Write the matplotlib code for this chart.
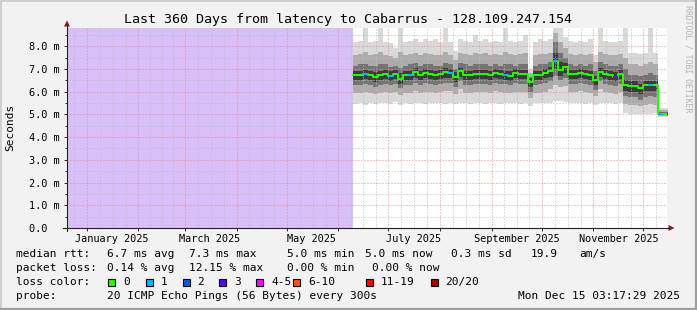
import numpy as np
import pandas as pd
import matplotlib
matplotlib.use('Agg')
import matplotlib.pyplot as plt
from matplotlib.patches import Rectangle, Polygon
from matplotlib.ticker import FuncFormatter
from datetime import datetime

plt.rcParams['font.family'] = ['DejaVu Sans Mono']

# 3 day steps, target only has data from 2025-06-10 on
days = pd.date_range('2025-06-10', periods=63, freq='3D')

# median rtt in ms
median = [6.72, 6.72, 6.77, 6.72, 6.64, 6.72, 6.77, 6.70, 6.77, 6.57,
          6.72, 6.72, 6.86, 6.72, 6.80, 6.77, 6.72, 6.77, 6.86, 6.83,
          6.64, 6.90, 6.72, 6.72, 6.77, 6.77, 6.77, 6.72, 6.83, 6.77,
          6.74, 6.70, 6.80, 6.77, 6.77, 6.43, 6.72, 6.74, 6.80, 6.90,
          7.33, 6.95, 7.08, 6.77, 6.77, 6.83, 6.77, 6.72, 6.50, 6.88,
          6.77, 6.72, 6.66, 6.77, 6.30, 6.27, 6.27, 6.15, 6.29, 6.29,
          6.29, 5.03, 5.03]
# lost pings out of 20
loss = [0, 0, 1, 0, 0, 0, 0, 1, 0, 0,
        0, 1, 0, 0, 0, 0, 0, 0, 0, 1,
        0, 0, 0, 0, 0, 0, 0, 0, 0, 0,
        1, 0, 0, 0, 0, 0, 0, 0, 0, 0,
        1, 0, 0, 0, 0, 0, 0, 0, 0, 0,
        0, 0, 3, 0, 0, 0, 0, 0, 0, 1,
        0, 1, 0]

# smoke: spread of the 20 pings
p_max = [8.20, 8.25, 8.80, 8.20, 8.25, 8.80, 8.20, 8.15, 7.90, 8.80,
         8.20, 8.25, 8.30, 8.20, 8.30, 8.25, 8.30, 8.20, 8.80, 8.20,
         7.80, 8.30, 8.25, 8.20, 8.50, 8.25, 8.30, 8.20, 8.25, 8.20,
         8.80, 8.25, 8.20, 8.25, 8.50, 7.00, 8.20, 8.30, 8.25, 8.30,
         8.80, 8.80, 8.40, 8.25, 8.20, 8.25, 8.20, 8.30, 7.60, 8.80,
         8.25, 8.20, 8.20, 8.25, 8.80, 7.70, 7.70, 7.65, 7.70, 8.80,
         7.70, 5.30, 5.30]
p_hi2 = [7.60, 7.65, 7.75, 7.60, 7.65, 7.75, 7.60, 7.55, 7.50, 7.75,
         7.60, 7.65, 7.70, 7.60, 7.70, 7.65, 7.60, 7.60, 7.75, 7.60,
         7.40, 7.70, 7.65, 7.60, 7.70, 7.65, 7.70, 7.60, 7.65, 7.60,
         7.75, 7.65, 7.60, 7.65, 7.70, 6.80, 7.60, 7.65, 7.65, 7.70,
         8.60, 8.20, 7.90, 7.65, 7.60, 7.65, 7.60, 7.65, 7.30, 7.75,
         7.65, 7.60, 7.60, 7.65, 7.50, 7.20, 7.20, 7.15, 7.20, 7.30,
         7.20, 5.20, 5.20]
p_hi3 = [7.15, 7.20, 7.20, 7.15, 7.15, 7.20, 7.20, 7.10, 7.15, 7.05,
         7.15, 7.20, 7.25, 7.15, 7.20, 7.20, 7.15, 7.15, 7.25, 7.20,
         7.00, 7.25, 7.20, 7.15, 7.20, 7.20, 7.20, 7.15, 7.20, 7.15,
         7.20, 7.20, 7.15, 7.20, 7.20, 6.65, 7.15, 7.20, 7.20, 7.30,
         8.20, 7.70, 7.50, 7.20, 7.15, 7.20, 7.15, 7.20, 6.90, 7.30,
         7.20, 7.15, 7.15, 7.20, 7.00, 6.75, 6.75, 6.70, 6.75, 6.80,
         6.75, 5.12, 5.12]
p_hi4 = [6.92, 6.92, 6.95, 6.92, 6.85, 6.92, 6.95, 6.90, 6.95, 6.80,
         6.92, 6.92, 7.02, 6.92, 6.98, 6.95, 6.92, 6.95, 7.02, 7.00,
         6.85, 7.05, 6.92, 6.92, 6.95, 6.95, 6.95, 6.92, 7.00, 6.95,
         6.92, 6.90, 6.98, 6.95, 6.95, 6.60, 6.92, 6.92, 6.98, 7.08,
         7.70, 7.30, 7.25, 6.95, 6.95, 7.00, 6.95, 6.92, 6.70, 7.05,
         6.95, 6.92, 6.88, 6.95, 6.50, 6.45, 6.45, 6.35, 6.45, 6.48,
         6.45, 5.07, 5.07]
p_lo4 = [6.50, 6.50, 6.55, 6.50, 6.42, 6.50, 6.55, 6.48, 6.55, 6.35,
         6.50, 6.50, 6.62, 6.50, 6.58, 6.55, 6.50, 6.55, 6.62, 6.60,
         6.42, 6.65, 6.50, 6.50, 6.55, 6.55, 6.55, 6.50, 6.60, 6.55,
         6.52, 6.48, 6.58, 6.55, 6.55, 6.20, 6.50, 6.52, 6.58, 6.65,
         7.00, 6.70, 6.80, 6.55, 6.55, 6.60, 6.55, 6.50, 6.28, 6.65,
         6.55, 6.50, 6.45, 6.55, 6.05, 6.00, 6.00, 5.90, 6.02, 6.05,
         6.02, 4.99, 4.99]
p_lo3 = [6.30, 6.30, 6.35, 6.30, 6.22, 6.30, 6.35, 6.28, 6.35, 6.15,
         6.30, 6.30, 6.40, 6.30, 6.38, 6.35, 6.30, 6.35, 6.40, 6.40,
         6.22, 6.45, 6.30, 6.30, 6.35, 6.35, 6.35, 6.30, 6.40, 6.35,
         6.32, 6.28, 6.38, 6.35, 6.35, 6.00, 6.30, 6.32, 6.38, 6.45,
         6.70, 6.50, 6.60, 6.35, 6.35, 6.40, 6.35, 6.30, 6.08, 6.45,
         6.35, 6.30, 6.25, 6.35, 5.80, 5.75, 5.75, 5.65, 5.75, 5.80,
         5.75, 4.96, 4.96]
p_lo2 = [5.95, 5.95, 6.00, 5.95, 5.88, 5.95, 6.00, 5.95, 6.00, 5.85,
         5.95, 5.95, 6.05, 5.95, 6.00, 6.00, 5.95, 6.00, 6.05, 6.05,
         5.90, 6.10, 5.95, 5.95, 6.00, 6.00, 6.00, 5.95, 6.05, 6.00,
         5.95, 5.95, 6.00, 6.00, 6.00, 5.70, 5.95, 5.95, 6.00, 6.10,
         6.30, 6.20, 6.25, 6.00, 6.00, 6.05, 6.00, 5.95, 5.80, 6.10,
         6.00, 5.95, 5.90, 6.00, 5.45, 5.40, 5.40, 5.35, 5.40, 5.45,
         5.40, 4.93, 4.93]
p_min = [5.45, 5.50, 5.40, 5.50, 5.45, 5.50, 5.50, 5.45, 5.55, 5.40,
         5.50, 5.45, 5.50, 5.50, 5.45, 5.50, 5.50, 5.50, 5.45, 5.50,
         5.45, 5.50, 5.50, 5.45, 5.50, 5.50, 5.45, 5.50, 5.50, 5.45,
         5.50, 5.50, 5.50, 5.45, 5.50, 5.35, 5.50, 5.50, 5.50, 5.50,
         5.60, 5.60, 5.55, 5.50, 5.50, 5.50, 5.45, 5.50, 5.40, 5.50,
         5.50, 5.50, 5.45, 5.50, 5.05, 5.00, 5.00, 5.00, 5.00, 5.00,
         5.05, 4.90, 4.90]

loss_labels = ['0', '1', '2', '3', '4-5', '6-10', '11-19', '20/20']
loss_colors = ['#26ff00', '#00b8ff', '#0059ff', '#5e00ff', '#ff00ff', '#ff5500', '#ff0000', '#a00000']
month_labels = ['January 2025', 'March 2025', 'May 2025', 'July 2025', 'September 2025', 'November 2025']
label_dates = pd.to_datetime(['2025-01-16', '2025-03-16', '2025-05-16', '2025-07-16', '2025-09-16', '2025-11-16'])

t_start = datetime(2024, 12, 20, 3, 17, 29)
t_end = datetime(2025, 12, 15, 3, 17, 29)


def loss_color(n):
    for lim, c in zip([0, 1, 2, 3, 5, 10, 19, 20], loss_colors):
        if n <= lim:
            return c
    return loss_colors[-1]


W, H = 697, 310
fig = plt.figure(figsize=(W / 100, H / 100), dpi=100)
fig.patch.set_facecolor('#f2f2f2')
ax = fig.add_axes([67 / W, (H - 228) / H, 600 / W, 200 / H])
ax.set_facecolor('white')

edges = list(days) + [days[-1] + pd.Timedelta(days=3)]
ax.axvspan(t_start, days[0], color='#d8bffa', lw=0, zorder=0)
layers = [(p_min, p_max, '#d9d9d9'), (p_lo2, p_hi2, '#acacac'),
          (p_lo3, p_hi3, '#747474'), (p_lo4, p_hi4, '#3c3c3c')]
for lo, hi, c in layers:
    ax.fill_between(edges, lo + [lo[-1]], hi + [hi[-1]], step='post', color=c, lw=0, zorder=1)

# grid on top of the smoke like rrdtool
dots = (0, (1, 2))
months = pd.date_range('2024-12-01', '2026-01-01', freq='MS')
for a, b in zip(months[:-1], months[1:]):
    for q in (1, 2, 3):
        ax.axvline(a + (b - a) * q / 4, color='#bdbdbd', lw=0.72, ls=dots, zorder=2)
for m in months:
    ax.axvline(m, color='#f08888', lw=0.72, ls=dots, zorder=2.5)
for v in np.arange(0.5, 9, 1):
    ax.axhline(v, color='#bdbdbd', lw=0.72, ls=dots, zorder=2)
for v in range(1, 9):
    ax.axhline(v, color='#f08888', lw=0.72, ls=dots, zorder=2.5)

ax.step(edges, median + [median[-1]], where='post', color=loss_colors[0], lw=1.4, zorder=4)
for i, n in enumerate(loss):
    if n > 0:
        ax.hlines(median[i], edges[i], edges[i + 1], color=loss_color(n), lw=1.4, zorder=5)

ax.set_xlim(t_start, t_end)
ax.set_ylim(0, 8.8)
for s in ax.spines.values():
    s.set_visible(False)
ax.set_yticks(range(0, 9))
ax.set_yticks(np.arange(0.5, 9, 1), minor=True)
ax.yaxis.set_major_formatter(FuncFormatter(lambda v, p: '0.0  ' if v == 0 else '%.1f m' % v))
ax.set_xticks(label_dates)
ax.set_xticklabels(month_labels)
ax.set_xticks(months[1:-1], minor=True)
ax.tick_params(axis='y', which='major', length=2.5, width=0.7, pad=3, labelsize=7.4, color='#333333')
ax.tick_params(axis='y', which='minor', length=1.5, width=0.7, color='#333333')
ax.tick_params(axis='x', which='major', length=0, pad=4, labelsize=7.4)
ax.tick_params(axis='x', which='minor', length=2.5, width=0.7, color='#333333')

# overlay in pixel coords for frame, axes arrows and legend
ov = fig.add_axes([0, 0, 1, 1], zorder=5)
ov.set_xlim(0, W)
ov.set_ylim(H, 0)
ov.axis('off')
ov.patch.set_alpha(0)

ov.plot([0, W], [0.5, 0.5], color='#cfcfcf', lw=1.4)
ov.plot([0.5, 0.5], [0, H], color='#cfcfcf', lw=1.4)
ov.plot([0, W], [H - 1, H - 1], color='#9e9e9e', lw=1.6)
ov.plot([W - 1, W - 1], [0, H], color='#9e9e9e', lw=1.6)

ov.plot([67, 67], [231, 25], color='#222222', lw=0.8)
ov.plot([63, 669], [228, 228], color='#222222', lw=0.8)
ov.add_patch(Polygon([[64, 26.5], [70, 26.5], [67, 20.5]], closed=True, color='#8b1a1a', lw=0))
ov.add_patch(Polygon([[668.5, 225], [668.5, 231], [674.5, 228]], closed=True, color='#8b1a1a', lw=0))

ov.text(348, 19, 'Last 360 Days from latency to Cabarrus - 128.109.247.154',
        ha='center', va='center', fontsize=9.6)
ov.text(10, 127, 'Seconds', rotation=90, ha='center', va='center', fontsize=8)
ov.text(688, 59, 'RRDTOOL / TOBI OETIKER', rotation=-90, ha='center', va='center',
        fontsize=5.9, color='#b4b4b4')

fs = 8
rows = [
    (254, [(16, 'median rtt:'), (107, '6.7 ms avg'), (189, '7.3 ms max'), (287, '5.0 ms min'),
           (365, '5.0 ms now'), (451, '0.3 ms sd'), (531, '19.9'), (579, 'am/s')]),
    (268, [(16, 'packet loss:'), (107, '0.14 % avg'), (189, '12.15 % max'), (287, '0.00 % min'),
           (372, '0.00 % now')]),
    (282, [(16, 'loss color:')]),
    (296, [(16, 'probe:'), (107, '20 ICMP Echo Pings (56 Bytes) every 300s')]),
]
for y, items in rows:
    for x, s in items:
        ov.text(x, y, s, ha='left', va='center', fontsize=fs)
ov.text(680, 296, 'Mon Dec 15 03:17:29 2025', ha='right', va='center', fontsize=fs)

box_x = [108, 145.5, 182.5, 219, 256, 293, 365.5, 430.5]
for bx, lab, c in zip(box_x, loss_labels, loss_colors):
    ov.add_patch(Rectangle((bx, 278.5), 7, 7.5, facecolor=c, edgecolor='black', lw=0.8))
    ov.text(bx + 15, 282, lab, ha='left', va='center', fontsize=fs)

fig.savefig('out.png', dpi=100, facecolor=fig.get_facecolor())
